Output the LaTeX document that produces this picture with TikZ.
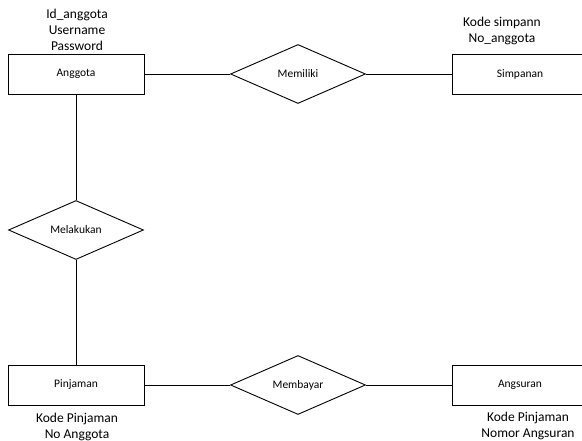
\documentclass[tikz,border=0pt]{standalone}
\usepackage{fontspec}
\setmainfont{Carlito}
\usetikzlibrary{shapes.geometric}
\begin{document}
\begin{tikzpicture}[x=1pt,y=-1pt,
  entity/.style={draw,line width=0.9pt,minimum width=136pt,minimum height=40pt,inner sep=0pt,font=\fontsize{11.5}{14}\selectfont},
  rel/.style={draw,line width=0.9pt,diamond,aspect=2.3,minimum width=135pt,minimum height=59pt,inner sep=0pt,font=\fontsize{11.5}{14}\selectfont},
  attr/.style={align=center,inner sep=0pt,font=\fontsize{13.5}{16}\selectfont},
  link/.style={line width=0.9pt}]
\useasboundingbox (0,0) rectangle (582,441);
\clip (0,0) rectangle (582,441);
\node[entity] (anggota) at (76,74) {Anggota};
\node[entity] (simpanan) at (520,74) {Simpanan};
\node[entity] (pinjaman) at (76,385) {Pinjaman};
\node[entity] (angsuran) at (520,385) {Angsuran};
\node[rel] (memiliki) at (298,74) {Memiliki};
\node[rel] (melakukan) at (76,230) {Melakukan};
\node[rel] (membayar) at (298,385) {Membayar};
\draw[link] (anggota) -- (memiliki);
\draw[link] (memiliki) -- (simpanan);
\draw[link] (anggota) -- (melakukan);
\draw[link] (melakukan) -- (pinjaman);
\draw[link] (pinjaman) -- (membayar);
\draw[link] (membayar) -- (angsuran);
\node[attr] (a1) at (77,30) {Id\_anggota\\Username\\Password};
\node[attr] (a2) at (502,30.5) {Kode simpann\\No\_anggota};
\node[attr] (a3) at (77,426.5) {Kode Pinjaman\\No Anggota};
\node[attr] (a4) at (528,426) {Kode Pinjaman\\Nomor Angsuran};
\end{tikzpicture}
\end{document}
